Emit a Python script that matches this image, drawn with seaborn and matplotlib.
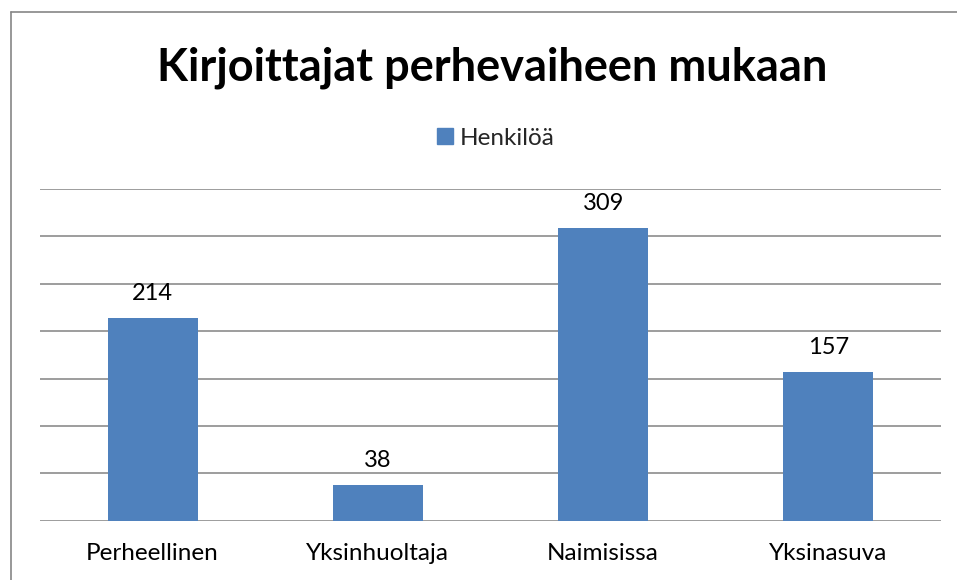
import matplotlib
matplotlib.use("Agg")
import matplotlib.pyplot as plt
import seaborn as sns
import pandas as pd
from matplotlib.lines import Line2D

categories = ["Perheellinen", "Yksinhuoltaja", "Naimisissa", "Yksinasuva"]
values = [214, 38, 309, 157]
series_name = "Henkilöä"
title = "Kirjoittajat perhevaiheen mukaan"

sns.set_theme(style="white")
plt.rcParams['font.family'] = ['Lato', 'DejaVu Sans']

W, H = 957, 580
fig = plt.figure(figsize=(W / 100, H / 100), dpi=100)
ax = fig.add_axes([40 / W, (H - 520.7) / H, (941 - 40) / W, (520.7 - 188.9) / H])

df = pd.DataFrame({"cat": categories, "val": values, "series": series_name})
sns.barplot(data=df, x="cat", y="val", hue="series", palette=["#4F81BD"],
            width=0.4, ax=ax, saturation=1, legend=False, linewidth=0)

ax.set_ylim(0, 350)
ax.set_yticks(range(0, 351, 50))
ax.yaxis.grid(True, color="#8C8C8C", linewidth=1.2)
ax.set_axisbelow(True)
ax.tick_params(axis="y", left=False, labelleft=False)
ax.tick_params(axis="x", bottom=False, labelsize=17.5, pad=10, colors="#000000")
ax.set_xlabel("")
ax.set_ylabel("")
for s in ax.spines.values():
    s.set_visible(False)
ax.set_xlim(-0.5, 3.5)

for c in ax.containers:
    ax.bar_label(c, labels=[str(v) for v in values], padding=10, fontsize=17, color="#000000")

# Title
fig.text(492 / W, 1 - 68 / H, title, ha="center", va="center",
         fontsize=32.5, fontweight="bold", color="#000000")

# Legend
handle = Line2D([], [], marker="s", linestyle="none", markersize=11,
                markerfacecolor="#4F81BD", markeredgecolor="#4F81BD")
fig.legend([handle], [series_name], loc="center", bbox_to_anchor=(494 / W, 1 - 138 / H),
           frameon=False, fontsize=17.5, handletextpad=0.1, borderaxespad=0, handlelength=1.0)

# Outer border (left and top visible)
fig.add_artist(Line2D([10.5 / W, 10.5 / W], [1 - 12 / H, -0.1], transform=fig.transFigure,
                      color="#868686", linewidth=1.2))
fig.add_artist(Line2D([10.5 / W, 1.1], [1 - 12 / H, 1 - 12 / H], transform=fig.transFigure,
                      color="#868686", linewidth=1.2))

fig.savefig("out.png", dpi=100, facecolor="white")
